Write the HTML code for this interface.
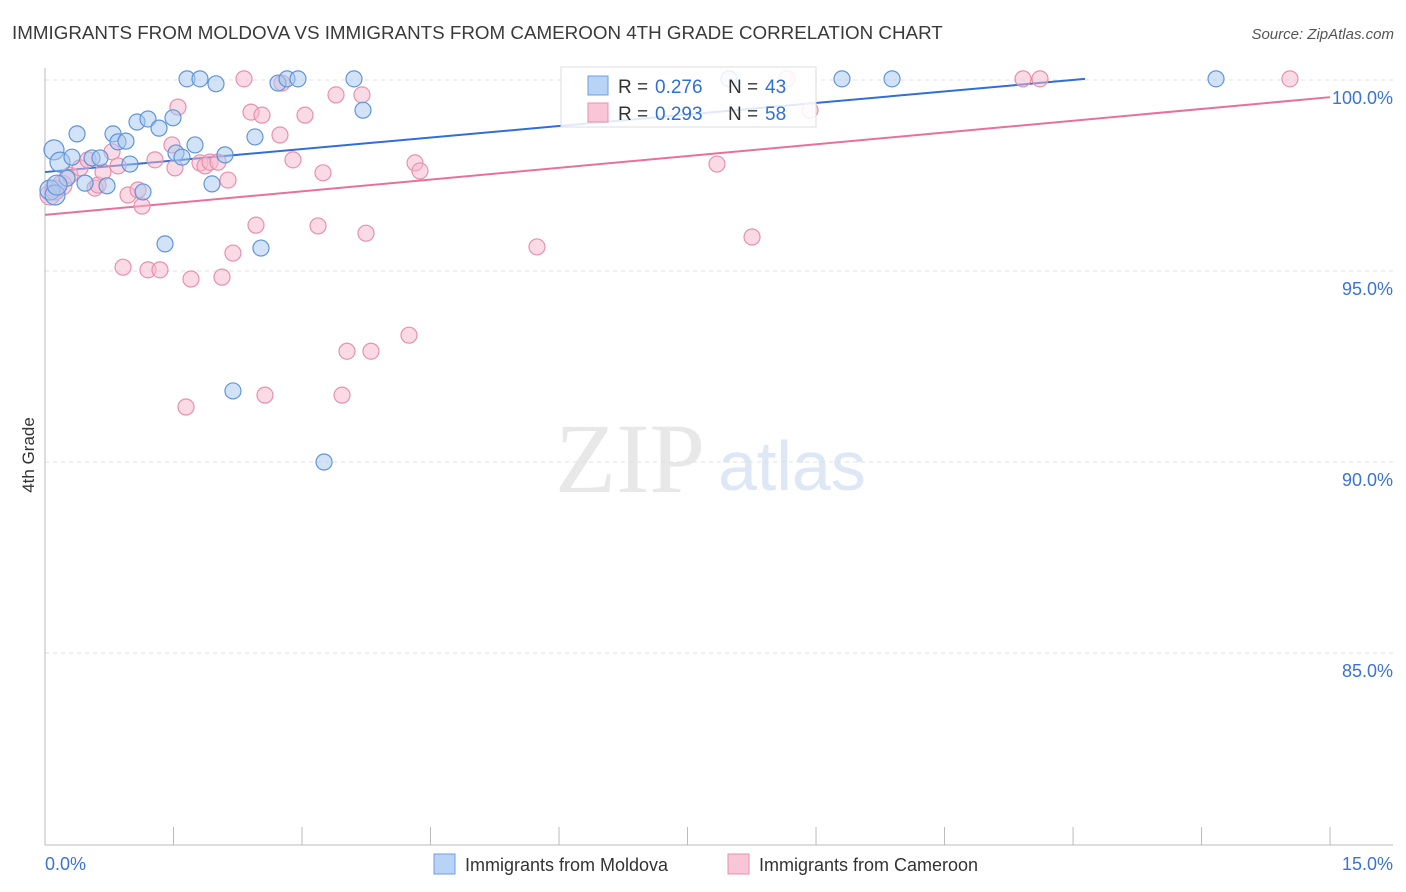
<!DOCTYPE html>
<html><head><meta charset="utf-8"><style>
body{margin:0;background:#fff;font-family:"Liberation Sans",sans-serif}
svg{display:block}
</style></head><body>
<svg id="chart" width="1406" height="892" xmlns="http://www.w3.org/2000/svg">
<text x="12" y="39" font-size="18.8" fill="#3a3a3a">IMMIGRANTS FROM MOLDOVA VS IMMIGRANTS FROM CAMEROON 4TH GRADE CORRELATION CHART</text>
<text x="1394" y="39" font-size="15" fill="#555" font-style="italic" text-anchor="end">Source: ZipAtlas.com</text>
<text x="34" y="455" font-size="17" fill="#333" text-anchor="middle" transform="rotate(-90 34 455)">4th Grade</text>
<text x="555" y="492" font-size="100" fill="#e8e8e8" font-family="Liberation Serif,serif">ZIP</text>
<text x="718" y="490" font-size="70" fill="#dde7f5">atlas</text>
<g id="grid"></g><g id="axes"></g><g id="lines"></g><g id="points"></g>
<g>
<rect x="561" y="67" width="255" height="60" fill="#fff" fill-opacity="0.85" stroke="#ddd"/>
<rect x="588" y="76" width="20" height="19" fill="#b8d3f5" stroke="#6a9fe0"/>
<g font-size="19">
<text x="618" y="93" fill="#333">R =</text><text x="655" y="93" fill="#2f6fd6">0.276</text>
<text x="728" y="93" fill="#333">N =</text><text x="765" y="93" fill="#2f6fd6">43</text></g>
<rect x="588" y="103" width="20" height="19" fill="#f8c6d6" stroke="#e890ae"/>
<g font-size="19">
<text x="618" y="120" fill="#333">R =</text><text x="655" y="120" fill="#2f6fd6">0.293</text>
<text x="728" y="120" fill="#333">N =</text><text x="765" y="120" fill="#2f6fd6">58</text></g>
</g>
<g>
<rect x="434" y="854" width="21" height="20" fill="#b8d3f5" stroke="#6a9fe0"/>
<text x="465" y="871" font-size="18" fill="#333">Immigrants from Moldova</text>
<rect x="728" y="854" width="21" height="20" fill="#f8c6d6" stroke="#e890ae"/>
<text x="759" y="871" font-size="18" fill="#333">Immigrants from Cameroon</text>
</g>
</svg>
<script>
const yTicks=[100,95,90,85];
const yTickLabels=["100.0%","95.0%","90.0%","85.0%"];
const xTickLabels=["0.0%","15.0%"];
const blueX=[0.105,0.175,0.315,0.374,0.257,0.467,0.549,0.642,0.724,0.794,0.852,0.945,0.992,1.074,1.144,1.202,1.331,1.401,1.494,1.529,1.599,1.658,1.751,1.809,1.949,1.996,2.101,2.194,2.451,2.521,2.72,2.825,2.953,3.257,3.607,3.712,7.984,9.303,9.887,13.669,0.058,0.117,0.14];
const blueY=[98.17,97.85,97.98,98.59,97.43,97.30,97.96,97.96,97.23,98.59,98.38,98.40,97.80,98.90,97.07,98.98,98.74,95.71,99.01,98.09,97.98,100.03,98.30,100.03,97.28,99.90,98.04,91.86,98.51,95.60,99.92,100.03,100.03,90.0,100.03,99.21,100.03,100.03,100.03,100.03,97.12,96.99,97.25];
const pinkX=[0.058,0.117,0.198,0.292,0.409,0.502,0.584,0.619,0.677,0.782,0.852,0.911,0.969,1.086,1.133,1.202,1.284,1.342,1.482,1.517,1.552,1.646,1.704,1.809,1.868,1.926,2.019,2.066,2.136,2.194,2.323,2.405,2.463,2.533,2.568,2.743,2.766,2.895,3.035,3.187,3.245,3.397,3.467,3.525,3.7,3.747,3.805,4.249,4.319,4.377,5.743,7.844,8.253,8.661,8.93,11.416,11.614,14.532];
const pinkY=[96.99,97.12,97.25,97.51,97.70,97.91,97.17,97.25,97.59,98.12,97.75,95.10,96.99,97.12,96.70,95.03,97.91,95.03,98.30,97.70,99.29,91.44,94.79,97.83,97.75,97.85,97.85,94.84,97.38,95.47,100.03,99.16,96.20,99.08,91.75,98.56,99.92,97.91,99.08,96.18,97.57,99.61,91.75,92.90,99.61,95.99,92.90,93.32,97.83,97.62,95.63,97.80,95.89,100.03,99.21,100.03,100.03,100.03];
const blueLine=[[0,97.59],[12.14,100.03]];
const pinkLine=[[0,96.47],[15,99.55]];
const NS="http://www.w3.org/2000/svg";
const X=v=>45+v*85.67, Y=v=>80+(100-v)*38.2;
function mk(tag,attrs,parent){const e=document.createElementNS(NS,tag);for(const k in attrs)e.setAttribute(k,attrs[k]);document.getElementById(parent).appendChild(e);return e;}
yTicks.forEach((t,i)=>{
 const g=mk('line',{x1:45,x2:1393,y1:Y(t),y2:Y(t),stroke:'#e0e0e0','stroke-dasharray':'4,4'},'grid');
 
 
 const l=mk('text',{x:1393,y:Y(t)+24,'font-size':18,fill:'#3b73d4','text-anchor':'end'},'axes');
 l.textContent=yTickLabels[i];
 
 
});
const ya=mk('line',{x1:45,x2:45,y1:68,y2:845,stroke:'#bbb'},'axes');


const xa=mk('line',{x1:45,x2:1393,y1:845,y2:845,stroke:'#bbb'},'axes');


for(let i=0;i<=10;i++){const t=mk('line',{x1:X(i*1.5),x2:X(i*1.5),y1:827,y2:845,stroke:'#bbb'},'axes');
 
 }
[[0,'start'],[15,'end']].forEach((p,i)=>{const t=mk('text',{x:i?1393:45,y:870,'font-size':18,fill:'#3b73d4','text-anchor':p[1]},'axes');t.textContent=xTickLabels[i];
 
 });
function pts(xs,ys,fill,stroke,name){xs.forEach((x,i)=>{const r=x<0.2?10:8;const c=mk('circle',{cx:X(x),cy:Y(ys[i]),r:r,fill:fill,'fill-opacity':0.5,stroke:stroke,'stroke-width':1.2},'points');
 
 });}
pts(pinkX,pinkY,'#f5b8cc','#e890ae','point-cameroon');
pts(blueX,blueY,'#a8c8f0','#5f95dc','point-moldova');
const bl=mk('line',{x1:X(blueLine[0][0]),y1:Y(blueLine[0][1]),x2:X(blueLine[1][0]),y2:Y(blueLine[1][1]),stroke:'#2f6fd6','stroke-width':2},'lines');


const pl=mk('line',{x1:X(pinkLine[0][0]),y1:Y(pinkLine[0][1]),x2:X(pinkLine[1][0]),y2:Y(pinkLine[1][1]),stroke:'#e8709a','stroke-width':2},'lines');


</script>
</body></html>
